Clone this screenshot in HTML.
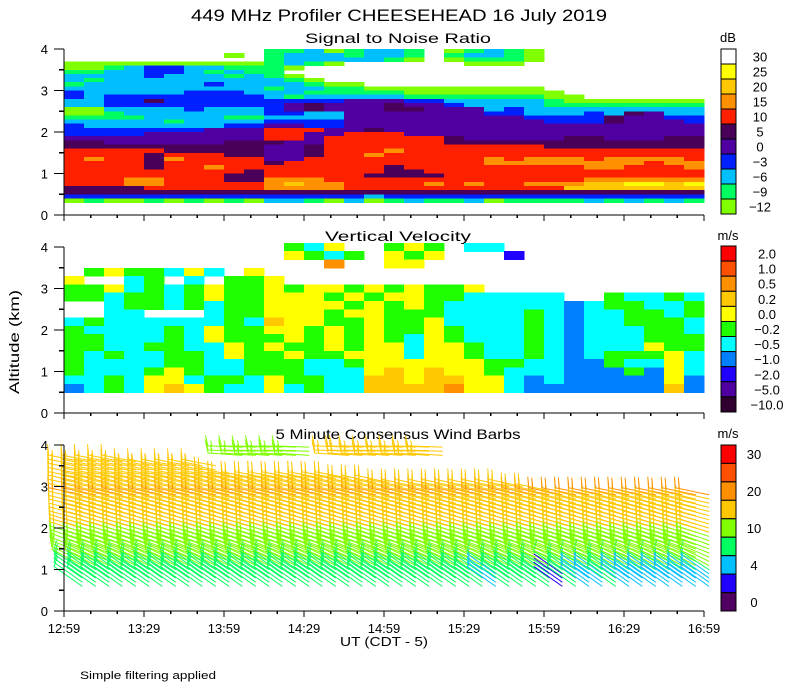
<!DOCTYPE html>
<html><head><meta charset="utf-8"><title>449 MHz Profiler CHEESEHEAD</title>
<style>html,body{margin:0;padding:0;background:#fff;}svg{display:block;font-family:"Liberation Sans",sans-serif;}</style>
</head><body>
<svg id="chart" width="800" height="700" viewBox="0 0 800 700" xmlns="http://www.w3.org/2000/svg">
<rect x="0" y="0" width="800" height="700" fill="#fff"/>
<text x="399" y="21" font-size="17" text-anchor="middle" textLength="416" lengthAdjust="spacingAndGlyphs">449 MHz Profiler CHEESEHEAD 16 July 2019</text>
<text x="398" y="43" font-size="14" text-anchor="middle" textLength="186" lengthAdjust="spacingAndGlyphs">Signal to Noise Ratio</text>
<text x="398" y="241" font-size="14" text-anchor="middle" textLength="146" lengthAdjust="spacingAndGlyphs">Vertical Velocity</text>
<text x="398" y="439" font-size="14" text-anchor="middle" textLength="245" lengthAdjust="spacingAndGlyphs">5 Minute Consensus Wind Barbs</text>
<text x="0" y="0" font-size="14" text-anchor="middle" transform="translate(19,342) rotate(-90)" textLength="104" lengthAdjust="spacingAndGlyphs">Altitude (km)</text>
<text x="384" y="646" font-size="13" text-anchor="middle" textLength="88" lengthAdjust="spacingAndGlyphs">UT  (CDT - 5)</text>
<text x="80" y="679" font-size="11" textLength="136" lengthAdjust="spacingAndGlyphs">Simple filtering applied</text>
<g id="layer"></g>
</svg>
<script>
// ---- data ----
const timeTicks = ["12:59","13:29","13:59","14:29","14:59","15:29","15:59","16:29","16:59"];
const altTicks = [0,1,2,3,4];
const snrLevels = ["30","25","20","15","10","5","0","\u22123","\u22126","\u22129","\u221212"];
const vvLevels = ["2.0","1.0","0.5","0.2","0.0","\u22120.2","\u22120.5","\u22121.0","\u22122.0","\u22125.0","\u221210.0"];
const windLevelLabels = ["30","","20","","10","","4","","0"];
const windThresholds = [2,4,7,10,15,20,25,30];
const snrAlts = [3.9,3.8,3.7,3.6,3.5,3.4,3.3,3.2,3.1,3.0,2.9,2.8,2.7,2.6,2.5,2.4,2.3,2.2,2.1,2.0,1.9,1.8,1.7,1.6,1.5,1.4,1.3,1.2,1.1,1.0,0.9,0.8,0.7,0.6,0.5,0.4,0.3];
const snrGrid = [
"..........11201221.01210........",
"........0.12221221.12210........",
"..........12222210.01110........",
"00000000001210......000.........",
"001233221110....................",
"11223321211.....................",
"222232221210....................",
"2122222222210...................",
"122222232222100.................",
"222222222212211000000000........",
"3222223332221111100000000.......",
"32333333332122222111111100......",
"22335333333333444332222210000000",
"22333333333454445443222211111111",
"00222232223454445544423222222222",
"00122222223322444444433222325422",
"11112222112222444444444333354433",
"22222122223333444444444433354443",
"32222222334433444444444444444444",
"33333334446664454444444444444444",
"33334444446644666444444444444444",
"44444444446646666665444445544455",
"55444444555446666665555555555555",
"55555555554456666666666655555555",
"66666555554456667666666666666666",
"66665666554456676666666666666666",
"67665766664466666666676777677776",
"66665666665666666666677777777677",
"66665667666666665666666666776667",
"66666666656666665566666666666666",
"66666666556666655556666666666666",
"66677666557776666666666666777777",
"66677666667877666676766777889989",
"55556666667777666666666668888888",
"55555555555555555555555555555555",
"33333333333333323333333333333333",
"01001010102210201211201111212121"];
const vvAlts = [3.9,3.7,3.5,3.3,3.1,2.9,2.7,2.5,2.3,2.1,1.9,1.7,1.5,1.3,1.1,0.9,0.7,0.5];
const vvGrid = [
".........." + ".564..54" + "5.66..." + ".......",
".........." + ".4565.45" + "4...8.." + ".......",
".........." + "...2..44" + "......." + ".......",
".5455646.4" + "........" + "......." + ".......",
"4..65.6.55" + "4......." + "......." + ".......",
"5546565455" + "45445454" + "554...." + ".......",
"5565565455" + "44454544" + "5566666" + "..56656",
"..65565655" + "44445454" + "5666666" + "7655665",
"..66...655" + "44454455" + "5666656" + "7665565",
"6566666656" + "34455455" + "4666656" + "7665556",
"5666656455" + "44545455" + "4566656" + "7666556",
"5566656455" + "54545456" + "4566656" + "7666555",
"5566556645" + "45545446" + "4456656" + "7666455",
"5656655645" + "54554446" + "4456656" + "7655546",
"5666655665" + "55665444" + "4445566" + "7756646",
"5666545665" + "55666434" + "3445666" + "7775746",
"6656446556" + "45566334" + "3344676" + "7777747",
"7656434566" + "46566333" + "3244677" + "7777737"];
const windHeights = [0.6,0.7,0.8,0.9,1.0,1.1,1.2,1.3,1.4,1.5,1.6,1.7,1.8,1.9,2.0,2.1,2.2,2.3,2.4,2.5,2.6,2.7,2.8,2.9,3.0,3.1,3.2,3.3,3.4,3.5,3.6];
const windSpeedByHeight = [9,9,9,9,9,10,11,12,12,13,13,14,14,15,15,16,17,17,18,18,19,19,20,19,19,19,18,18,18,17,17];
const windDirByHeight = [305,305,305,305,303,298,296,294,292,290,290,289,288,288,287,286,285,285,284,284,283,283,282,282,282,282,281,281,281,281,281];
const windTop = [3.6,3.6,3.6,3.6,3.6,3.5,3.5,3.5,3.5,3.5,3.5,3.3,3.2,3.2,3.2,3.2,3.2,3.2,3.2,3.2,3.2,3.1,3.1,3.1,3.0,3.0,3.0,3.0,3.0,3.0,3.0,3.0,3.0,3.0,2.9,2.9,2.8,2.8,2.8,2.8,2.8,2.8,2.8,2.8,2.8,2.8,2.8,2.8];
const lowSpeed = [9,9,9,9,9,9,9,9,9,9,9,9,9,9,9,9,9,9,9,9,9,9,9,9,9,9,9,9,9,9,8,5,9,9,8,8,2,8,4,5,8,6,6,6,6,6,6,6];
const upperSpeed = [0,0,0,0,0,0,0,0,0,0,0,0,13,14,13,14,14,13,0,0,17,18,17,16,17,17,17,17,0,0,0,0,0,0,0,0,0,0,0,0,0,0,0,0,0,0,0,0];

// ---- scales & style ----
const snrColors = {"0":"#80ff00","1":"#00ff60","2":"#00bfff","3":"#0020ff","4":"#5000a0","5":"#480058","6":"#ff2000","7":"#ff9000","8":"#ffc800","9":"#ffff00","W":"#ffffff"};
const snrBarColors = ["#ffffff","#ffff00","#ffc800","#ff9000","#ff2000","#480058","#5000a0","#0020ff","#00bfff","#00ff60","#80ff00"];
const vvColors = ["#ff0000","#ff5000","#ff9000","#ffc800","#ffff00","#20ff00","#00ffff","#0080ff","#2000ff","#5000a0","#300030"];
const windColors = ["#500060","#2000ff","#00c0ff","#00ff60","#80ff00","#ffc800","#ff9000","#ff5000","#ff0000"];
const panelBase = [215,413,611];
const KM = 41.5;
const X0 = 64, XW = 640, TSPAN = 240;
function xScale(m){ return X0 + m*XW/TSPAN; }
function yScale(p,h){ return panelBase[p] - h*KM; }
const NS = "http://www.w3.org/2000/svg";
const layer = document.getElementById('layer');
function mk(tag, attrs, parent){
  const e = document.createElementNS(NS, tag);
  for (const k in attrs) e.setAttribute(k, attrs[k]);
  (parent||layer).appendChild(e);
  return e;
}

// ---- heatmaps ----
function drawGrid(p, grid, alts, dh, colorOf, name){
  const g = mk('g', {'shape-rendering':'crispEdges'});
  
  
  const nc = 32, dm = TSPAN/nc;
  grid.forEach((row, r) => {
    for (let c = 0; c < nc; c++){
      const ch = row[c];
      if (!ch || ch === '.') continue;
      const col = colorOf(ch);
      if (!col) continue;
      const x1 = xScale(c*dm), x2 = xScale((c+1)*dm);
      const yTop = yScale(p, alts[r]+dh), yBot = yScale(p, alts[r]);
      const rc = mk('rect', {x:x1.toFixed(1), y:yTop.toFixed(1), width:(x2-x1+0.6).toFixed(1), height:(yBot-yTop+0.6).toFixed(1), fill:col}, g);
      
      
    }
  });
}
drawGrid(0, snrGrid, snrAlts, 0.1, ch => snrColors[ch], 'snr-heatmap');
drawGrid(1, vvGrid, vvAlts, 0.2, ch => ch === 'X' ? vvColors[10] : vvColors[+ch], 'velocity-heatmap');

// ---- wind barbs ----
function windColor(s){ let i = 0; while (i < windThresholds.length && s >= windThresholds[i]) i++; return windColors[i]; }
const wg = mk('g', {'stroke-width':'1', 'fill':'none', 'stroke-linecap':'square'});


function drawBarb(t, h, spd, dir){
  const sx = xScale(t) + 18, sy = yScale(2, h);
  const rad = dir*Math.PI/180;
  const ux = Math.sin(rad), uy = -Math.cos(rad);
  const L = 34;
  const ex = sx + L*ux, ey = sy + L*uy;
  const col = windColor(spd);
  const g = mk('g', {stroke: col}, wg);
  
  
  let d = `M${sx.toFixed(1)},${sy.toFixed(1)}L${ex.toFixed(1)},${ey.toFixed(1)}`;
  let pxv = -uy, pyv = ux;
  if (pyv > 0){ pxv = -pxv; pyv = -pyv; }
  let rem = Math.round(spd/5)*5, pos = 0;
  while (rem >= 10){
    const bx = ex - ux*pos, by = ey - uy*pos;
    d += `M${bx.toFixed(1)},${by.toFixed(1)}l${(pxv*10+ux*3).toFixed(1)},${(pyv*10+uy*3).toFixed(1)}`;
    rem -= 10; pos += 4;
  }
  if (rem >= 5){
    const bx = ex - ux*pos, by = ey - uy*pos;
    d += `M${bx.toFixed(1)},${by.toFixed(1)}l${(pxv*5+ux*1.5).toFixed(1)},${(pyv*5+uy*1.5).toFixed(1)}`;
  }
  mk('path', {d: d}, g);
}
for (let k = 0; k < windTop.length; k++){
  const t = k*5;
  windHeights.forEach((h, i) => {
    if (h > windTop[k] + 1e-6) return;
    const spd = h <= 0.9 ? lowSpeed[k] : windSpeedByHeight[i];
    drawBarb(t, h, spd, windDirByHeight[i]);
  });
  if (upperSpeed[k] > 0){
    drawBarb(t, 3.85, upperSpeed[k], 272);
    drawBarb(t, 3.95, upperSpeed[k], 272);
    drawBarb(t, 3.75, upperSpeed[k], 274);
  }
}

// ---- axes ----
for (let p = 0; p < 3; p++){
  const ax = mk('g', {stroke:'#000', 'stroke-width':'1.3', fill:'none', 'shape-rendering':'crispEdges'});
  
  
  mk('line', {x1:X0, y1:yScale(p,4), x2:X0, y2:yScale(p,0)}, ax);
  mk('line', {x1:X0, y1:yScale(p,0), x2:X0+XW, y2:yScale(p,0)}, ax);
  altTicks.forEach(a => {
    mk('line', {x1:X0-10, y1:yScale(p,a), x2:X0, y2:yScale(p,a)}, ax);
    if (a < 4) mk('line', {x1:X0-5, y1:yScale(p,a+0.5), x2:X0, y2:yScale(p,a+0.5)}, ax);
    const tl = mk('text', {x:X0-16, y:yScale(p,a)+5, 'font-size':'13', 'text-anchor':'end', stroke:'none', fill:'#000'});
    
    
    tl.textContent = String(a);
  });
  for (let m = 0; m <= TSPAN; m += 10){
    const major = m % 30 === 0;
    mk('line', {x1:xScale(m), y1:yScale(p,0), x2:xScale(m), y2:yScale(p,0)+(major?6:3)}, ax);
  }
}
timeTicks.forEach((lab, i) => {
  const tx = mk('text', {x:xScale(i*30), y:633, 'font-size':'13', 'text-anchor':'middle'});
  
  
  tx.textContent = lab;
});

// ---- colorbars ----
function colorbar(top, bottom, colors, labels, labelX, unit, unitY, name){
  const g = mk('g', {});
  
  
  const n = colors.length, sh = (bottom-top)/n;
  colors.forEach((c, i) => {
    const r = mk('rect', {x:721, y:(top+i*sh).toFixed(1), width:15, height:sh.toFixed(1), fill:c, stroke:'#000', 'stroke-width':'1'}, g);
    
    
    if (labels[i]){
      const t = mk('text', {x:labelX, y:(top+i*sh+sh/2+5).toFixed(1), 'font-size':'13', 'text-anchor':'middle'}, g);
      
      
      t.textContent = labels[i];
    }
  });
  const u = mk('text', {x:728, y:unitY, 'font-size':'13', 'text-anchor':'middle'}, g);
  
  
  u.textContent = unit;
}
colorbar(49, 214, snrBarColors, snrLevels, 760, 'dB', 42, 'snr-colorbar');
colorbar(246, 412, vvColors, vvLevels, 767, 'm/s', 240, 'velocity-colorbar');
colorbar(445, 611, windColors.slice().reverse(), windLevelLabels, 754, 'm/s', 438, 'wind-colorbar');
</script>
</body></html>
